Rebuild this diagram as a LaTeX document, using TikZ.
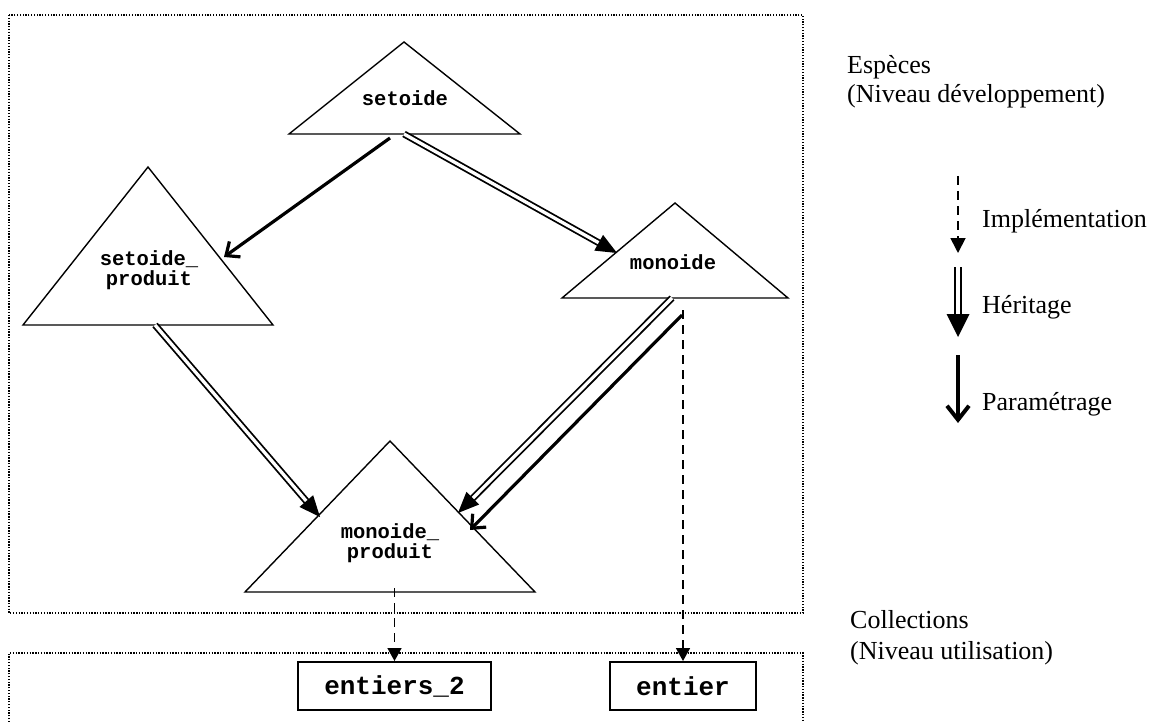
\documentclass[tikz,border=0pt]{standalone}
\usepackage{fontspec}
\setmainfont{Liberation Serif}
\newfontfamily\codefont{Liberation Mono}
\usetikzlibrary{arrows.meta,calc}

\tikzset{
  frame/.style={line width=1.3pt, dash pattern=on 1.3pt off 1.5pt},
  spec/.style={line width=1.4pt, line join=miter},
  spectext/.style={font=\codefont\bfseries\fontsize{20.5}{20}\selectfont,
    align=center, inner sep=0pt},
  coll/.style={draw, line width=2pt, inner sep=0pt, minimum height=48pt,
    font=\codefont\bfseries\fontsize{26}{26}\selectfont},
  legendtext/.style={font=\fontsize{26}{30}\selectfont, anchor=base west,
    inner sep=0pt},
  impl/.style={line width=1.6pt, dash pattern=on 9pt off 6pt,
    -{Triangle[length=13pt,width=14pt]}},
  param/.style={line width=3.2pt,
    -{Straight Barb[length=11pt,width=19pt]}},
  inhshaft/.style={line width=1.8pt, double=white, double distance=3.3pt},
}

% double-line inheritance arrow with a solid triangular head
% #1 extra options, #2 start, #3 tip, #4 head length, #5 head half width
\newcommand\inhArrow[5][]{%
  \draw[inhshaft,#1] (#2) -- ($(#3)!#4-5pt!(#2)$);
  \coordinate (inh-base) at ($(#3)!#4!(#2)$);
  \fill (#3) -- ($(inh-base)!#5!90:(#3)$) -- ($(inh-base)!#5!-90:(#3)$) -- cycle;
}

\begin{document}
\begin{tikzpicture}[x=1pt,y=-1pt]
\useasboundingbox (0,0) rectangle (1153,722);
\fill[white] (0,0) rectangle (1153,722);

% levels
\draw[frame] (9,15) rectangle (803,613);
\draw[frame] (9,722) -- (9,653) -- (803,653) -- (803,722);

% species
\coordinate (s-top) at (404,42);
\coordinate (s-l) at (289,134);
\coordinate (s-r) at (520,134);
\draw[spec] (s-top) -- (s-l) -- (s-r) -- cycle;
\node[spectext] (setoide) at (405,98) {setoide};

\coordinate (sp-top) at (148,167);
\coordinate (sp-l) at (23,325);
\coordinate (sp-r) at (273,325);
\draw[spec] (sp-top) -- (sp-l) -- (sp-r) -- cycle;
\node[spectext] (setoideprod) at (149,270) {setoide\_\\produit};

\coordinate (m-top) at (675,203);
\coordinate (m-l) at (562,298);
\coordinate (m-r) at (788,298);
\draw[spec] (m-top) -- (m-l) -- (m-r) -- cycle;
\node[spectext] (monoide) at (673,262) {monoide};

\coordinate (mp-top) at (390,441);
\coordinate (mp-l) at (245,592);
\coordinate (mp-r) at (535,592);
\draw[spec] (mp-top) -- (mp-l) -- (mp-r) -- cycle;
\node[spectext] (monoideprod) at (390,543) {monoide\_\\produit};

% collections
\node[coll, minimum width=193pt] (entiers2) at (394.5,686) {entiers\_2};
\node[coll, minimum width=146pt] (entier) at (683,686) {entier};

% relations between species
\coordinate (s-out-p) at (390,138);
\coordinate (sp-in) at (224,257);
\draw[param] (s-out-p) -- (sp-in);

\coordinate (s-out-h) at (404,134);
\coordinate (m-in) at (617,253);
\inhArrow{s-out-h}{m-in}{21pt}{9pt}

\coordinate (sp-out) at (155,325);
\coordinate (mp-in-l) at (320,517);
\inhArrow{sp-out}{mp-in-l}{21pt}{9pt}

\coordinate (m-out-h) at (672,298);
\coordinate (mp-in-h) at (458,513);
\inhArrow{m-out-h}{mp-in-h}{21pt}{9pt}

\coordinate (m-out-p) at (682,315);
\coordinate (mp-in-p) at (470,530);
\draw[param] (m-out-p) -- (mp-in-p);

% implementations
\coordinate (m-out-i) at (683,310);
\draw[impl] (m-out-i) -- (entier.north);
\coordinate (mp-out-i) at (394.5,588);
\draw[impl] (mp-out-i) -- (entiers2.north);

% level labels
\node[legendtext] (esp1) at (847,74) {Espèces};
\node[legendtext] (esp2) at (847,103) {(Niveau développement)};
\node[legendtext] (col1) at (850,628) {Collections};
\node[legendtext] (col2) at (850,659) {(Niveau utilisation)};

% legend
\coordinate (li-a) at (958,176);
\coordinate (li-b) at (958,253);
\draw[impl, line width=1.8pt, -{Triangle[length=15pt,width=15pt]}] (li-a) -- (li-b);
\node[legendtext] (limpl) at (982,227) {Implémentation};

\coordinate (lh-a) at (958,267);
\coordinate (lh-b) at (958,337);
\inhArrow[line width=2pt, double distance=4.5pt]{lh-a}{lh-b}{23pt}{11.5pt}
\node[legendtext] (lher) at (982,313) {Héritage};

\coordinate (lp-a) at (958,355);
\coordinate (lp-b) at (958,423);
\draw[line width=4pt, -{Straight Barb[length=14pt,width=22pt]}] (lp-a) -- (lp-b);
\node[legendtext] (lpar) at (982,410) {Paramétrage};
\end{tikzpicture}
\end{document}
